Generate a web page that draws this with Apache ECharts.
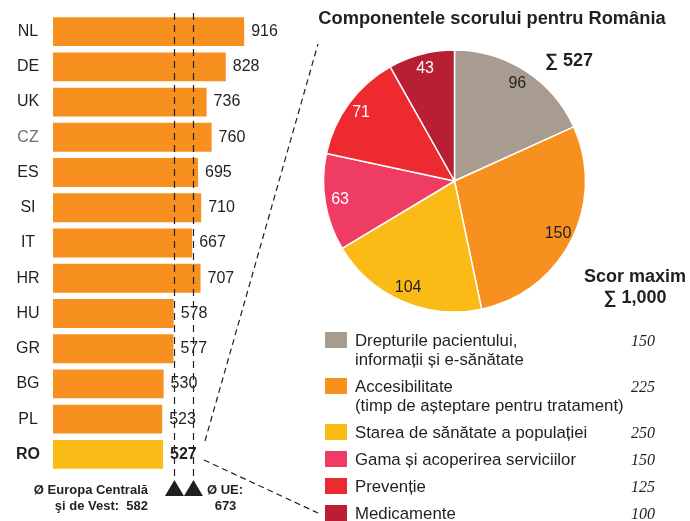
<!DOCTYPE html>
<html>
<head>
<meta charset="utf-8">
<script src="https://cdn.jsdelivr.net/npm/echarts@6/dist/echarts.min.js"></script>
<style>
  html, body { margin: 0; padding: 0; background: #fff; }
  #chart { width: 690px; height: 521px; }
</style>
</head>
<body>
<div id="chart"></div>
<script>
  // scor total pe tari
  var countries = ['NL', 'DE', 'UK', 'CZ', 'ES', 'SI', 'IT', 'HR', 'HU', 'GR', 'BG', 'PL', 'RO']
  var scores = [916, 828, 736, 760, 695, 710, 667, 707, 578, 577, 530, 523, 527]
  // medii: Europa Centrala si de Vest, UE
  var avgValues = [582, 673]

  // componentele scorului pentru Romania
  var components = [
    'Drepturile pacientului,\ninformații și e-sănătate',
    'Accesibilitate\n(timp de așteptare pentru tratament)',
    'Starea de sănătate a populației',
    'Gama și acoperirea serviciilor',
    'Prevenție',
    'Medicamente'
  ]
  var roScores = [96, 150, 104, 63, 71, 43]
  var maxScores = [150, 225, 250, 150, 125, 100]
  var maxTotal = '1,000'

  var ink = '#231f20'
  var sans = '"Liberation Sans", Arial, Helvetica, sans-serif'
  var barColor = '#f7901e'
  var roColor = '#fbbb16'
  var sliceColors = ['#a89b90', '#f7901e', '#fbbb16', '#ef3c63', '#ec2a2f', '#b81f35']
  var sliceLabelColors = [ink, ink, ink, '#fff', '#fff', '#fff']

  var gridLeft = 53, gridTop = 14, gridH = 458
  var pieCenter = [454.5, 181], pieR = 131

  var roTotal = roScores.reduce(function (a, b) { return a + b }, 0)

  function txt (x, y, text, font, align, color) {
    return {
      type: 'text', x: x, y: y, silent: true,
      style: {
        text: text, font: font, fill: color || ink,
        align: align || 'left', textAlign: align || 'left',
        verticalAlign: 'middle', textVerticalAlign: 'middle'
      }
    }
  }

  var els = []
  els.push(txt(492, 19, 'Componentele scorului pentru România', 'bold 18.3px ' + sans, 'center'))
  els.push(txt(569, 61, '∑ ' + roTotal, 'bold 18px ' + sans, 'center'))
  els.push(txt(635, 277, 'Scor maxim', 'bold 18px ' + sans, 'center'))
  els.push(txt(635, 298, '∑ ' + maxTotal, 'bold 18px ' + sans, 'center'))
  els.push(txt(148, 490, 'Ø Europa Centrală', 'bold 13px ' + sans, 'right'))
  els.push(txt(148, 506, 'şi de Vest:  ' + avgValues[0], 'bold 13px ' + sans, 'right'))
  els.push(txt(207, 490, 'Ø UE:', 'bold 13px ' + sans, 'left'))
  els.push(txt(225.5, 506, String(avgValues[1]), 'bold 13px ' + sans, 'center'))

  // linii de legatura catre placinta
  els.push({ type: 'line', silent: true, shape: { x1: 205, y1: 441, x2: 318, y2: 44 },
    style: { stroke: ink, lineWidth: 1.2, lineDash: [6, 4] } })
  els.push({ type: 'line', silent: true, shape: { x1: 204, y1: 460, x2: 318, y2: 513 },
    style: { stroke: ink, lineWidth: 1.2, lineDash: [6, 4] } })

  // legenda
  var legendTop = 332
  components.forEach(function (name, i) {
    var lines = name.split('\n')
    els.push({ type: 'rect', silent: true, shape: { x: 325, y: legendTop, width: 22, height: 16 },
      style: { fill: sliceColors[i] } })
    lines.forEach(function (ln, j) {
      els.push(txt(355, legendTop + 9 + j * 19, ln, '16.8px ' + sans, 'left'))
    })
    els.push(txt(655, legendTop + 10, String(maxScores[i]), 'italic 16px "Liberation Serif", Georgia, serif', 'right'))
    legendTop += 27 + (lines.length - 1) * 19
  })

  var labelBase = { align: 'center', fontSize: 16, color: ink, fontFamily: sans }

  var chart = echarts.init(document.getElementById('chart'))
  var option = {
    animation: false,
    textStyle: { fontFamily: sans },
    grid: { left: gridLeft, top: gridTop, width: 208.7, height: gridH },
    xAxis: { type: 'value', min: 0, max: 1000, show: false },
    yAxis: {
      type: 'category',
      inverse: true,
      data: countries.map(function (c) {
        if (c === 'RO') return { value: c, textStyle: Object.assign({}, labelBase, { fontWeight: 'bold' }) }
        if (c === 'CZ') return { value: c, textStyle: Object.assign({}, labelBase, { color: '#6d6e71' }) }
        return c
      }),
      axisLine: { show: false },
      axisTick: { show: false },
      splitLine: { show: false },
      axisLabel: Object.assign({ margin: 25 }, labelBase)
    },
    graphic: { elements: els },
    series: [
      {
        type: 'bar',
        silent: true,
        barCategoryGap: '18%',
        itemStyle: { color: barColor },
        label: { show: true, position: 'right', distance: 7, fontSize: 16, color: ink, fontFamily: sans },
        data: scores.map(function (v, i) {
          if (countries[i] === 'RO') {
            return { value: v, itemStyle: { color: roColor }, label: { fontWeight: 'bold' } }
          }
          return v
        }),
        markLine: {
          silent: true,
          symbol: ['none', 'none'],
          label: { show: false },
          emphasis: { disabled: true },
          lineStyle: { color: ink, type: [7, 5], width: 1.2 },
          data: avgValues.map(function (v) {
            return [
              { coord: [v, countries[0]], y: gridTop - 1 },
              { coord: [v, countries[countries.length - 1]], y: gridTop + gridH + 8 }
            ]
          })
        },
        markPoint: {
          silent: true,
          symbol: 'triangle',
          symbolSize: [19, 16],
          itemStyle: { color: ink },
          label: { show: false },
          data: avgValues.map(function (v) {
            return { coord: [v, countries[countries.length - 1]], y: gridTop + gridH + 16 }
          })
        }
      },
      {
        type: 'pie',
        silent: true,
        center: pieCenter,
        radius: pieR,
        startAngle: 90,
        clockwise: true,
        label: { show: false },
        labelLine: { show: false },
        itemStyle: { borderColor: '#fff', borderWidth: 1.5 },
        data: roScores.map(function (v, i) {
          return { name: components[i], value: v, itemStyle: { color: sliceColors[i] } }
        })
      },
      {
        // doar etichetele valorilor, spre marginea placintei
        type: 'pie',
        silent: true,
        center: pieCenter,
        radius: [95, pieR],
        startAngle: 90,
        clockwise: true,
        itemStyle: { color: 'transparent' },
        labelLine: { show: false },
        label: { show: true, position: 'inside', formatter: '{c}', fontSize: 16, fontFamily: sans, textBorderWidth: 0 },
        data: roScores.map(function (v, i) {
          return { name: components[i], value: v, label: { color: sliceLabelColors[i] } }
        })
      }
    ]
  }
  chart.setOption(option)
</script>
</body>
</html>
